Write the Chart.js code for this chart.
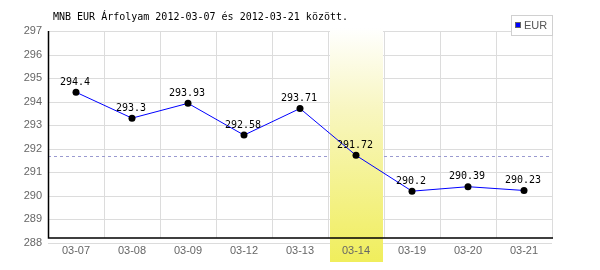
<!DOCTYPE html>
<html><head><meta charset="utf-8">
<script src="https://cdn.jsdelivr.net/npm/chart.js@4"></script>
<style>html,body{margin:0;padding:0;background:#fff}#c{display:block}</style>
</head><body>
<canvas id="c" width="600" height="270"></canvas>
<script>
const categories = ['03-07','03-08','03-09','03-12','03-13','03-14','03-19','03-20','03-21'];
const eurValues = [294.4, 293.3, 293.93, 292.58, 293.71, 291.72, 290.2, 290.39, 290.23];
const valueLabels = ['294.4','293.3','293.93','292.58','293.71','291.72','290.2','290.39','290.23'];
const yTicks = [288,289,290,291,292,293,294,295,296,297];
const refLine = 291.7;
const highlightIndex = 5;
const titleText = 'MNB EUR Árfolyam 2012-03-07 és 2012-03-21 között.';
const seriesName = 'EUR';

function bounds(xs, i) {
  const p = xs.getPixelForValue(i);
  const step = xs.getPixelForValue(1) - xs.getPixelForValue(0);
  return [p - step/2, p + step/2];
}

const deco = {
  id: 'deco',
  beforeDraw(chart) {
    const {ctx, chartArea: a, scales: {x, y}} = chart;
    const axisY = a.bottom - 5;
    ctx.save();
    ctx.strokeStyle = '#dcdcdc'; ctx.lineWidth = 1;
    yTicks.forEach(v => {
      const py = Math.round(y.getPixelForValue(v)) + 0.5;
      ctx.beginPath(); ctx.moveTo(a.left, py); ctx.lineTo(a.right, py); ctx.stroke();
    });
    for (let i = 0; i < categories.length; i++) {
      const bx = Math.round(bounds(x, i)[1]) + 0.5;
      ctx.beginPath(); ctx.moveTo(bx, a.top); ctx.lineTo(bx, axisY); ctx.stroke();
    }
    const ry = Math.round(y.getPixelForValue(refLine)) + 0.5;
    ctx.strokeStyle = '#9a9ad0'; ctx.setLineDash([3,3]);
    ctx.beginPath(); ctx.moveTo(a.left, ry); ctx.lineTo(a.right, ry); ctx.stroke();
    ctx.setLineDash([]);
    const [b0, b1] = bounds(x, highlightIndex);
    const g = ctx.createLinearGradient(0, 28, 0, 262);
    g.addColorStop(0, 'rgba(255,255,255,1)');
    g.addColorStop(0.35, '#f8f6c0');
    g.addColorStop(1, '#f0ee5c');
    ctx.fillStyle = g;
    ctx.fillRect(Math.round(b0) + 2, 28, Math.round(b1 - b0) - 3, 234);
    ctx.restore();
  },
  beforeDatasetsDraw(chart) {
    const {ctx, chartArea: a} = chart;
    const axisY = a.bottom - 5;
    ctx.save();
    ctx.strokeStyle = '#000'; ctx.lineWidth = 1.5;
    ctx.beginPath();
    ctx.moveTo(a.left + 0.5, a.top); ctx.lineTo(a.left + 0.5, axisY); ctx.lineTo(a.right + 1, axisY);
    ctx.stroke();
    ctx.restore();
  },
  afterDraw(chart) {
    const {ctx, scales: {x, y}} = chart;
    ctx.save();
    ctx.fillStyle = '#000';
    ctx.font = '10px "DejaVu Sans Mono"';
    ctx.textAlign = 'center'; ctx.textBaseline = 'bottom';
    eurValues.forEach((v, i) => {
      ctx.fillText(valueLabels[i], x.getPixelForValue(i) - 1, y.getPixelForValue(v) - 5);
    });
    ctx.textAlign = 'left'; ctx.textBaseline = 'middle';
    ctx.fillText(titleText, 53, 17);
    ctx.fillStyle = '#fff'; ctx.fillRect(511, 15, 41, 20);
    ctx.strokeStyle = '#d0d0d0'; ctx.lineWidth = 1;
    ctx.strokeRect(511.5, 15.5, 41, 20);
    ctx.fillStyle = '#0000ff'; ctx.fillRect(515, 22, 6, 6);
    ctx.strokeStyle = '#666'; ctx.strokeRect(515.5, 22.5, 5, 5);
    ctx.fillStyle = '#555'; ctx.font = '11px "Liberation Sans"';
    ctx.fillText(seriesName, 524, 26);
    ctx.restore();
  }
};

new Chart(document.getElementById('c'), {
  type: 'line',
  data: {
    labels: categories,
    datasets: [{
      label: seriesName,
      data: eurValues,
      borderColor: '#0000ff',
      borderWidth: 1,
      pointBackgroundColor: '#000',
      pointBorderColor: '#000',
      pointRadius: 3.5,
      pointBorderWidth: 0,
      tension: 0,
      fill: false
    }]
  },
  options: {
    responsive: false,
    animation: false,
    events: [],
    layout: {padding: {left: 0, right: 48, top: 31, bottom: 0}},
    plugins: {legend: {display: false}, title: {display: false}, tooltip: {enabled: false}},
    scales: {
      x: {
        offset: true,
        grid: {display: false, drawTicks: false},
        border: {display: false},
        ticks: {color: '#666', font: {family: 'Liberation Sans', size: 11}, padding: 1, maxRotation: 0, autoSkip: false},
        afterFit(s) { s.height = 27; }
      },
      y: {
        min: 288, max: 297,
        grid: {display: false, drawTicks: false},
        border: {display: false},
        ticks: {stepSize: 1, color: '#666', font: {family: 'Liberation Sans', size: 11}, padding: 6},
        afterFit(s) { s.width = 48; }
      }
    }
  },
  plugins: [deco]
});
</script>
</body></html>
